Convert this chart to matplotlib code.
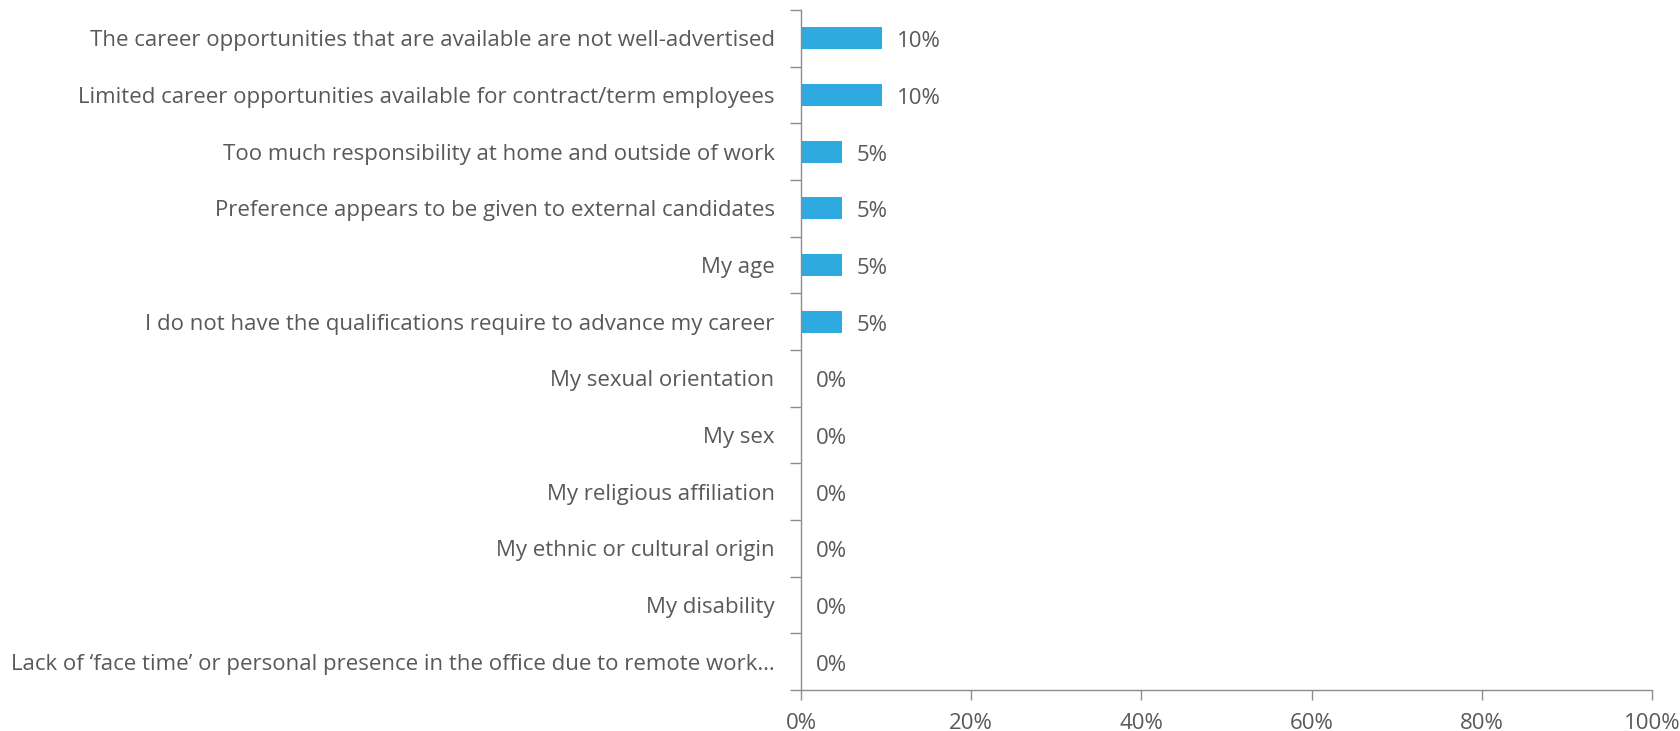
import matplotlib
matplotlib.use("Agg")
import matplotlib.pyplot as plt
from matplotlib.ticker import FixedLocator, NullFormatter

categories = [
    "The career opportunities that are available are not well-advertised",
    "Limited career opportunities available for contract/term employees",
    "Too much responsibility at home and outside of work",
    "Preference appears to be given to external candidates",
    "My age",
    "I do not have the qualifications require to advance my career",
    "My sexual orientation",
    "My sex",
    "My religious affiliation",
    "My ethnic or cultural origin",
    "My disability",
    "Lack of \u2018face time\u2019 or personal presence in the office due to remote work\u2026",
]
values = [2/21, 2/21, 1/21, 1/21, 1/21, 1/21, 0, 0, 0, 0, 0, 0]
value_labels = ["10%", "10%", "5%", "5%", "5%", "5%", "0%", "0%", "0%", "0%", "0%", "0%"]
xticks = [0, 0.2, 0.4, 0.6, 0.8, 1.0]
xtick_labels = ["0%", "20%", "40%", "60%", "80%", "100%"]

plt.rcParams['font.family'] = ['Open Sans', 'DejaVu Sans']
text_color = "#595959"
axis_color = "#8c8c8c"
bar_color = "#2eaae1"
fs = 16.0

fig = plt.figure(figsize=(16.81, 7.31), dpi=100)
ax = fig.add_axes([0.4765, 0.0561, 0.5063, 0.9302])

n = len(categories)
ypos = list(range(n))
ax.barh(ypos, values, height=0.39, color=bar_color)
ax.set_ylim(n - 0.5, -0.5)
ax.set_xlim(0, 1)

for y, v, lab in zip(ypos, values, value_labels):
    ax.text(v + 0.018, y + 0.06, lab, va="center", ha="left", fontsize=fs, color=text_color)

ax.set_yticks(ypos)
ax.set_yticklabels(categories, fontsize=fs, color=text_color)
ax.tick_params(axis="y", which="major", length=0, pad=19)
ax.yaxis.set_minor_locator(FixedLocator([i - 0.5 for i in range(n + 1)]))
ax.yaxis.set_minor_formatter(NullFormatter())
ax.tick_params(axis="y", which="minor", length=8, width=1, color=axis_color, direction="out")

ax.set_xticks(xticks)
ax.set_xticklabels(xtick_labels, fontsize=fs, color=text_color)
ax.tick_params(axis="x", length=7, width=1, color=axis_color, direction="out", pad=9.5)

for s in ["top", "right"]:
    ax.spines[s].set_visible(False)
for s in ["left", "bottom"]:
    ax.spines[s].set_color(axis_color)
    ax.spines[s].set_linewidth(1)

fig.savefig("out.png", dpi=100)
